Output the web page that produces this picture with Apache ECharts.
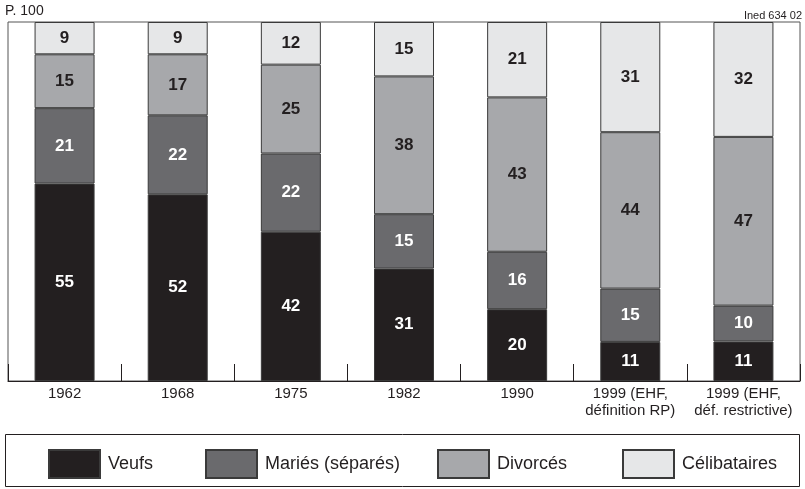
<!DOCTYPE html>
<html lang="fr">
<head>
    <meta charset="UTF-8">
    <title>Répartition par état matrimonial</title>
    <script src="https://cdn.jsdelivr.net/npm/echarts@6/dist/echarts.min.js"></script>
    <style>
        html, body { margin: 0; padding: 0; background: #fff; }
    </style>
</head>
<body>
<div id="main" style="width: 805px;height: 489px;"></div>

<script type="text/javascript">
    // données (en %)
    var annees = ['1962', '1968', '1975', '1982', '1990', '1999 (EHF,\ndéfinition RP)', '1999 (EHF,\ndéf. restrictive)'];
    var veufs = [55, 52, 42, 31, 20, 11, 11];
    var maries = [21, 22, 22, 15, 16, 15, 10];
    var divorces = [15, 17, 25, 38, 43, 44, 47];
    var celibataires = [9, 9, 12, 15, 21, 31, 32];

    var police = "'Liberation Sans', Arial, sans-serif";
    var encre = '#231f20';

    // les barres vont toutes jusqu'à 100 : on ramène chaque colonne à 100
    var totaux = annees.map(function (a, i) {
        return veufs[i] + maries[i] + divorces[i] + celibataires[i];
    });

    var myChart = echarts.init(document.getElementById('main'));

    function serie(nom, donnees, couleur, couleurTexte) {
        return {
            name: nom,
            type: 'bar',
            stack: 'total',
            barWidth: 60,
            data: donnees.map(function (v, i) {
                return { value: v * 100 / totaux[i], brut: v };
            }),
            itemStyle: { color: couleur, borderColor: '#3a3a3a', borderWidth: 1 },
            label: {
                show: true,
                position: 'inside',
                color: couleurTexte,
                fontFamily: police,
                fontWeight: 'bold',
                fontSize: 17,
                formatter: function (p) { return p.data.brut; }
            }
        };
    }

    var noms = ['Veufs', 'Mariés (séparés)', 'Divorcés', 'Célibataires'];
    var positionsLegende = [48, 205, 437, 622];

    var option = {
        animation: false,
        textStyle: { fontFamily: police },
        grid: {
            left: 8, top: 22, right: 5, height: 359,
            show: true, borderColor: '#555', borderWidth: 1
        },
        graphic: [
            { type: 'text', left: 5, top: 4, style: { text: 'P. 100', font: '14px ' + police, fill: encre } },
            { type: 'text', right: 3, top: 10, style: { text: 'Ined 634 02', font: '11px ' + police, fill: encre } },
            { type: 'rect', shape: { x: 5.5, y: 434.5, width: 794, height: 52 },
              style: { fill: 'none', stroke: encre, lineWidth: 1 }, z: -1 }
        ],
        legend: noms.map(function (n, i) {
            return {
                left: positionsLegende[i], top: 449, padding: 0,
                icon: 'rect',
                itemWidth: 51, itemHeight: 28, itemGap: 8,
                textStyle: { fontSize: 18, color: encre, fontFamily: police, padding: [0, 0, 0, 3] },
                data: [n]
            };
        }),
        xAxis: {
            type: 'category',
            data: annees,
            axisLine: { lineStyle: { color: encre, width: 1 } },
            axisTick: { show: true, inside: true, length: 17, lineStyle: { color: encre } },
            axisLabel: { color: encre, fontSize: 15, lineHeight: 17, margin: 4, interval: 0 }
        },
        yAxis: {
            type: 'value', min: 0, max: 100,
            show: false, splitLine: { show: false }
        },
        series: [
            serie('Veufs', veufs, '#231f20', '#ffffff'),
            serie('Mariés (séparés)', maries, '#6a6a6d', '#ffffff'),
            serie('Divorcés', divorces, '#a7a8ab', encre),
            serie('Célibataires', celibataires, '#e6e7e8', encre)
        ]
    };

    myChart.setOption(option);
</script>
</body>
</html>
